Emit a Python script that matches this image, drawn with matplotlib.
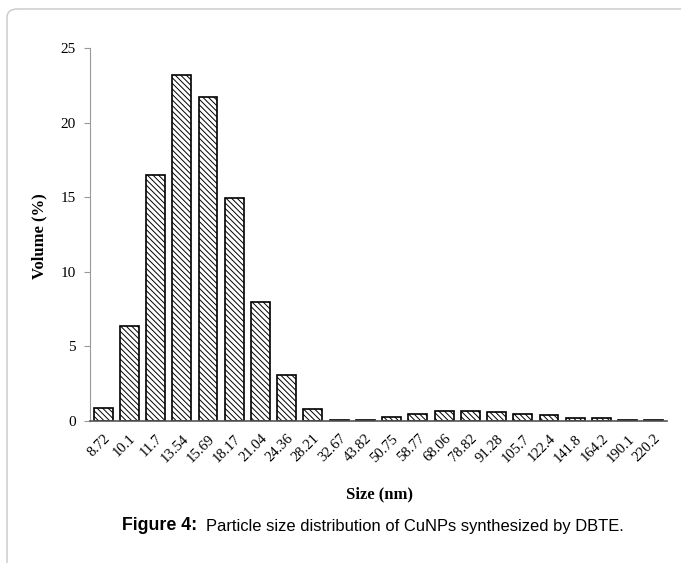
import matplotlib
matplotlib.use("Agg")
import matplotlib.pyplot as plt
from matplotlib.patches import FancyBboxPatch

sizes = ["8.72", "10.1", "11.7", "13.54", "15.69", "18.17", "21.04", "24.36", "28.21",
         "32.67", "43.82", "50.75", "58.77", "68.06", "78.82", "91.28", "105.7", "122.4",
         "141.8", "164.2", "190.1", "220.2"]
volume = [0.87, 6.35, 16.5, 23.2, 21.7, 14.95, 7.98, 3.1, 0.8,
          0.1, 0.1, 0.28, 0.5, 0.7, 0.7, 0.57, 0.5, 0.42,
          0.2, 0.2, 0.1, 0.1]
yticks = [0, 5, 10, 15, 20, 25]

plt.rcParams['hatch.linewidth'] = 0.7
fig = plt.figure(figsize=(6.81, 5.63), dpi=100)

# border frame (right and bottom edges run off the picture)
border = FancyBboxPatch((7 / 681, -0.05), 1.2, 1.05 - 9 / 563,
                        boxstyle="round,pad=0,rounding_size=0.015",
                        transform=fig.transFigure, fill=False,
                        edgecolor="#c8c8c8", linewidth=1.0)
fig.patches.append(border)

ax = fig.add_axes([90 / 681, 1 - 421 / 563, (667 - 90) / 681, (421 - 48) / 563])
x = list(range(len(sizes)))
ax.bar(x, volume, width=0.72, color="white", edgecolor="black", linewidth=1.2,
       hatch="\\\\\\\\\\\\")
ax.set_xlim(-0.5, len(sizes) - 0.5)
ax.set_ylim(0, 25)
ax.set_yticks(yticks)
ax.set_yticklabels([str(t) for t in yticks], fontfamily="Liberation Serif", fontsize=11)
ax.set_xticks(x)
ax.set_xticklabels(sizes, rotation=45, ha="right", rotation_mode="anchor",
                   fontfamily="Liberation Serif", fontsize=10.5)
ax.tick_params(axis="x", length=0, pad=8)
ax.tick_params(axis="y", length=4, color="#999999", direction="out", pad=6)
for s in ["top", "right"]:
    ax.spines[s].set_visible(False)
ax.spines["left"].set_color("#999999")
ax.spines["bottom"].set_color("#555555")
ax.spines["bottom"].set_linewidth(1.2)

fig.text(39 / 681, 1 - 236 / 563, "Volume (%)", fontfamily="Liberation Serif",
         fontweight="bold", fontsize=12, rotation=90, ha="center", va="center")
fig.text(380 / 681, 1 - 494 / 563, "Size (nm)", fontfamily="Liberation Serif",
         fontweight="bold", fontsize=12, ha="center", va="center")
fig.text(122 / 681, 1 - 526 / 563, "Figure 4:", fontfamily="Liberation Sans",
         fontweight="bold", fontsize=12.8, ha="left", va="center")
fig.text(624 / 681, 1 - 526 / 563, "Particle size distribution of CuNPs synthesized by DBTE.",
         fontfamily="Liberation Sans", fontsize=11.9, ha="right", va="center")

fig.savefig("out.png", dpi=100)
